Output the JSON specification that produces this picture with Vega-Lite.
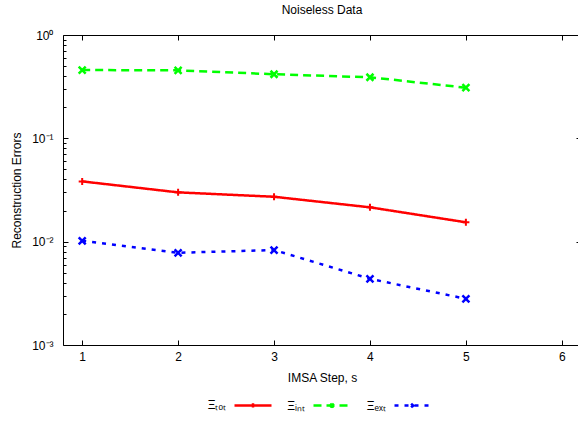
{
  "$schema": "https://vega.github.io/schema/vega-lite/v6.json",
  "autosize": "none",
  "width": 518,
  "height": 310,
  "padding": {"left": 63, "top": 35, "right": 0, "bottom": 76},
  "title": {"text": "Noiseless Data", "fontSize": 12, "fontWeight": "normal", "font": "Liberation Sans", "color": "black", "offset": 12},
  "config": {
    "font": "Liberation Sans",
    "view": {"stroke": "black", "strokeWidth": 1},
    "axis": {"grid": false, "domain": false, "tickColor": "black", "labelColor": "black", "titleColor": "black", "labelFontSize": 12, "titleFontSize": 12, "titleFontWeight": "normal", "labelFont": "Liberation Sans", "titleFont": "Liberation Sans"},
    "legend": {"symbolType": "stroke", "symbolSize": 1369, "symbolStrokeWidth": 2.5, "labelFontSize": 12, "labelColor": "black", "labelFont": "Liberation Sans", "labelAlign": "right", "labelOffset": -47, "columnPadding": 10}
  },
  "data": {"values": [
    {"step": 1, "series": "tot", "value": 0.0383},
    {"step": 2, "series": "tot", "value": 0.0300},
    {"step": 3, "series": "tot", "value": 0.0272},
    {"step": 4, "series": "tot", "value": 0.0215},
    {"step": 5, "series": "tot", "value": 0.0154},
    {"step": 1, "series": "int", "value": 0.458},
    {"step": 2, "series": "int", "value": 0.455},
    {"step": 3, "series": "int", "value": 0.417},
    {"step": 4, "series": "int", "value": 0.390},
    {"step": 5, "series": "int", "value": 0.309},
    {"step": 1, "series": "ext", "value": 0.0102},
    {"step": 2, "series": "ext", "value": 0.00781},
    {"step": 3, "series": "ext", "value": 0.0083},
    {"step": 4, "series": "ext", "value": 0.00437},
    {"step": 5, "series": "ext", "value": 0.0028}
  ]},
  "resolve": {"axis": {"x": "independent", "y": "independent"}},
  "layer": [
    {
      "mark": {"type": "line", "strokeWidth": 2.5},
      "encoding": {
        "x": {"field": "step", "type": "quantitative", "scale": {"domain": [0.8, 6.2], "nice": false, "zero": false},
              "axis": {"orient": "bottom", "values": [1,2,3,4,5,6], "ticks": false, "labelPadding": 6, "title": "IMSA Step, s", "titlePadding": 10, "format": "d"}},
        "y": {"field": "value", "type": "quantitative", "scale": {"type": "log", "domain": [0.001, 1], "nice": false},
              "axis": {"orient": "left", "values": [0.001, 0.01, 0.1, 1], "ticks": false, "labelPadding": 10, "title": "Reconstruction Errors", "titlePadding": 8,
                       "labelExpr": "datum.value >= 0.9 ? '10⁰' : datum.value >= 0.09 ? '10⁻¹' : datum.value >= 0.009 ? '10⁻²' : '10⁻³'"}},
        "color": {"field": "series", "type": "nominal",
                  "scale": {"domain": ["tot", "int", "ext"], "range": ["#ff0000", "#00ff00", "#0000ff"]},
                  "legend": {"orient": "none", "legendX": 170, "legendY": 350, "direction": "horizontal", "title": null,
                             "labelExpr": "datum.value == 'tot' ? 'Ξₜₒₜ' : datum.value == 'int' ? 'Ξᵢₙₜ' : 'Ξₑₓₜ'",
                             "encode": {"symbols": {"update": {"shape": {"signal": "datum.value == 'tot' ? 'M-1,0H1M0,-0.12V0.12' : 'M-1,0H1M-0.1,-0.1L0.1,0.1M-0.1,0.1L0.1,-0.1'"}}}}}},
        "strokeDash": {"field": "series", "type": "nominal",
                       "scale": {"domain": ["tot", "int", "ext"], "range": [[1, 0], [8, 5], [4, 6]]},
                       "legend": {"orient": "none", "legendX": 170, "legendY": 350, "direction": "horizontal", "title": null,
                             "labelExpr": "datum.value == 'tot' ? 'Ξₜₒₜ' : datum.value == 'int' ? 'Ξᵢₙₜ' : 'Ξₑₓₜ'",
                             "encode": {"symbols": {"update": {"shape": {"signal": "datum.value == 'tot' ? 'M-1,0H1M0,-0.12V0.12' : 'M-1,0H1M-0.1,-0.1L0.1,0.1M-0.1,0.1L0.1,-0.1'"}}}}}}
      }
    },
    {
      "transform": [{"filter": "datum.series == 'tot'"}],
      "mark": {"type": "point", "filled": false, "strokeWidth": 2, "opacity": 1, "shape": "M-1,0H1M0,-1V1", "size": 49},
      "encoding": {
        "x": {"field": "step", "type": "quantitative", "axis": {"orient": "bottom", "values": [1,2,3,4,5,6], "labels": false, "tickSize": -5, "title": null}},
        "y": {"field": "value", "type": "quantitative", "axis": {"orient": "left", "values": [0.001, 0.01, 0.1, 1], "labels": false, "tickSize": -5, "title": null}},
        "color": {"field": "series", "type": "nominal"}
      }
    },
    {
      "transform": [{"filter": "datum.series != 'tot'"}],
      "mark": {"type": "point", "filled": false, "strokeWidth": 2.5, "opacity": 1, "shape": "M-1,-1L1,1M-1,1L1,-1", "size": 49},
      "encoding": {
        "x": {"field": "step", "type": "quantitative", "axis": {"orient": "top", "values": [1,2,3,4,5,6], "labels": false, "tickSize": -5, "title": null}},
        "y": {"field": "value", "type": "quantitative", "axis": {"orient": "left", "values": [0.002,0.003,0.004,0.005,0.006,0.007,0.008,0.009,0.02,0.03,0.04,0.05,0.06,0.07,0.08,0.09,0.2,0.3,0.4,0.5,0.6,0.7,0.8,0.9], "labels": false, "tickSize": -3, "title": null}},
        "color": {"field": "series", "type": "nominal"}
      }
    },
    {
      "mark": {"type": "point", "opacity": 0},
      "encoding": {
        "x": {"field": "step", "type": "quantitative", "axis": null},
        "y": {"field": "value", "type": "quantitative", "axis": {"orient": "right", "values": [0.001, 0.01, 0.1, 1], "labels": false, "tickSize": -5, "title": null}}
      }
    }
  ]
}
